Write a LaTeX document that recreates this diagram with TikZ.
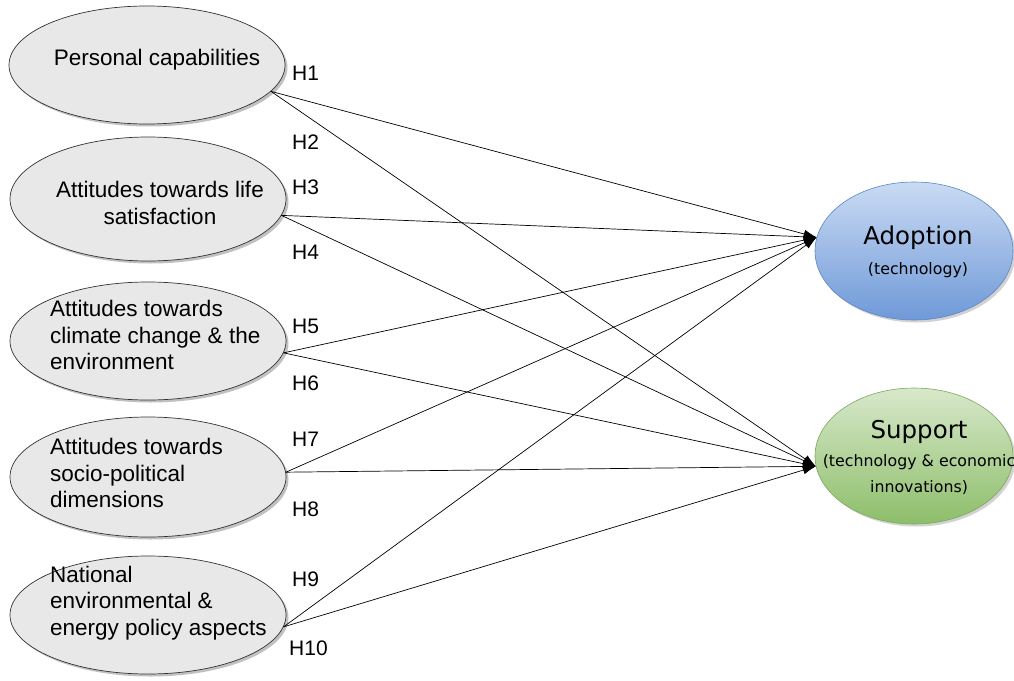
\documentclass[tikz,border=0pt]{standalone}
\usepackage{fontspec}
\setmainfont{Liberation Sans}
\newfontfamily\verd{DejaVu Sans}
\usetikzlibrary{shapes.geometric,arrows.meta,shadows}
\definecolor{lfill}{HTML}{E8E8E8}
\definecolor{adtop}{HTML}{CADBF3}
\definecolor{adbot}{HTML}{6F99D8}
\definecolor{adline}{HTML}{5A86C6}
\definecolor{sutop}{HTML}{D8E8CB}
\definecolor{subot}{HTML}{8DBE6A}
\definecolor{suline}{HTML}{7AA95B}
\begin{document}
\begin{tikzpicture}[x=1pt,y=-1pt,
  lv/.style={ellipse, draw=black!80, line width=0.7pt, fill=lfill,
    minimum width=276pt, minimum height=118pt, inner sep=0pt,
    drop shadow={shadow xshift=2.5pt,shadow yshift=-2.5pt,fill=black!40,opacity=0.6}},
  rv/.style={ellipse, line width=0.6pt, minimum width=198pt, minimum height=138pt, inner sep=0pt,
    drop shadow={shadow xshift=2.5pt,shadow yshift=-2.5pt,fill=black!35,opacity=0.5}},
  ltxt/.style={font=\fontsize{22.5}{26.5}\selectfont, inner sep=0pt},
  hl/.style={font=\fontsize{21}{24}\selectfont, anchor=west, inner sep=0pt},
  big/.style={font=\verd\fontsize{24.5}{28}\selectfont, inner sep=0pt},
  small/.style={font=\verd\fontsize{15.8}{26}\selectfont, inner sep=0pt, align=center},
  arr/.style={-{Latex[length=13pt,width=8.5pt]}, line width=0.7pt, black}
]
\useasboundingbox (0,0) rectangle (1014,680);
\fill[white] (0,0) rectangle (1014,680);

% left ellipses
\node[lv] (e1) at (147,65) {};
\node[lv, minimum height=124pt] (e2) at (148,199) {};
\node[lv] (e3) at (148,341) {};
\node[lv, minimum height=120pt] (e4) at (148,477) {};
\node[lv] (e5) at (148,615) {};

\node[ltxt] (t1) at (157,60) {Personal capabilities};
\node[ltxt, align=center] (t2) at (160,203) {Attitudes towards life\\satisfaction};
\node[ltxt, align=left, anchor=west] (t3) at (50,335) {Attitudes towards\\climate change \& the\\environment};
\node[ltxt, align=left, anchor=west] (t4) at (50,473) {Attitudes towards\\socio-political\\dimensions};
\node[ltxt, align=left, anchor=west] (t5) at (50,603) {National\\environmental \&\\energy policy aspects};

% right ellipses
\node[rv, draw=adline, top color=adtop, bottom color=adbot] (ad) at (914,251) {};
\node[rv, draw=suline, top color=sutop, bottom color=subot, minimum height=136pt] (su) at (914,456) {};

\node[big] (adt) at (918,238) {Adoption};
\node[small] (ads) at (918,270) {(technology)};
\node[big] (sut) at (919,432) {Support};
\node[small] (sus) at (919,475) {(technology \& economic\\innovations)};

% connectors
\draw[arr] (e1.-12) -- (ad.172);
\draw[arr] (e1.-12) -- (su.186);
\draw[arr] (e2.-7) -- (ad.172);
\draw[arr] (e2.-7) -- (su.186);
\draw[arr] (e3.-5) -- (ad.172);
\draw[arr] (e3.-5) -- (su.186);
\draw[arr] (e4.2) -- (ad.172);
\draw[arr] (e4.2) -- (su.186);
\draw[arr] (e5.-5.5) -- (ad.172);
\draw[arr] (e5.-5.5) -- (su.186);

% hypothesis labels
\node[hl] (h1) at (292,73) {H1};
\node[hl] (h2) at (292,142) {H2};
\node[hl] (h3) at (292,187) {H3};
\node[hl] (h4) at (292,252) {H4};
\node[hl] (h5) at (292,326) {H5};
\node[hl] (h6) at (292,383) {H6};
\node[hl] (h7) at (292,439) {H7};
\node[hl] (h8) at (292,509) {H8};
\node[hl] (h9) at (292,579) {H9};
\node[hl] (h10) at (289,648) {H10};
\end{tikzpicture}
\end{document}
